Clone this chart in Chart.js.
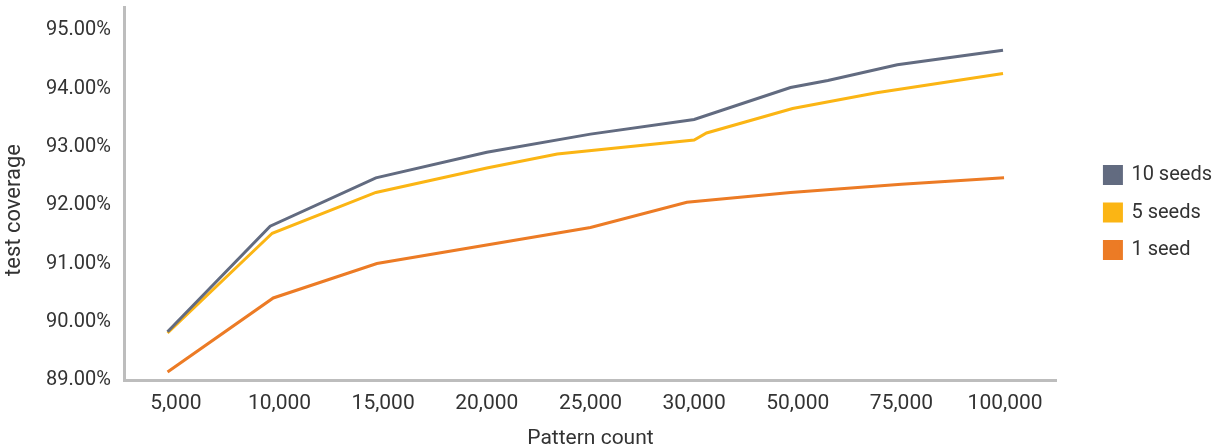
<!DOCTYPE html>
<html>
<head>
<meta charset="utf-8">
<script src="https://cdn.jsdelivr.net/npm/chart.js@4/dist/chart.umd.min.js"></script>
<style>
  html, body { margin: 0; padding: 0; background: #ffffff; overflow: hidden; }
  #wrap { position: absolute; left: 0; top: 0; width: 1222px; height: 448px; }
</style>
</head>
<body>
<div id="wrap"><canvas id="c"></canvas></div>
<script>
// Category tick labels (x axis, evenly spaced categories)
const categories = ["5,000", "10,000", "15,000", "20,000", "25,000", "30,000", "50,000", "75,000", "100,000"];
const seriesNames = ["10 seeds", "5 seeds", "1 seed"];

// Positions along the category axis (in category units) and values (%)
const tenSeedsPos = [-0.08, 0.91, 1.93, 3.0, 4.0, 5.0, 5.93, 6.29, 6.96, 7.98];
const tenSeedsVal = [89.83, 91.64, 92.47, 92.91, 93.22, 93.47, 94.02, 94.14, 94.41, 94.66];

const fiveSeedsPos = [-0.08, 0.93, 1.93, 3.0, 3.68, 5.0, 5.12, 5.95, 6.76, 7.98];
const fiveSeedsVal = [89.81, 91.52, 92.22, 92.64, 92.88, 93.12, 93.24, 93.66, 93.93, 94.26];

const oneSeedPos = [-0.08, 0.94, 1.94, 4.0, 4.93, 5.93, 7.0, 7.99];
const oneSeedVal = [89.14, 90.41, 91.0, 91.62, 92.05, 92.22, 92.36, 92.47];

const yTicks = [89, 90, 91, 92, 93, 94, 95];

const colors = ["#626b80", "#fbb514", "#ec7b25"];
const textColor = "#333333";
const axisColor = "#bdbdbd";
const FONT = "Roboto, 'Liberation Sans', sans-serif";

function pts(xs, ys) { return xs.map((x, i) => ({ x: x, y: ys[i] })); }

const datasets = [
  { label: seriesNames[0], data: pts(tenSeedsPos, tenSeedsVal) },
  { label: seriesNames[1], data: pts(fiveSeedsPos, fiveSeedsVal) },
  { label: seriesNames[2], data: pts(oneSeedPos, oneSeedVal) }
].map((d, i) => Object.assign(d, {
  borderColor: colors[i],
  backgroundColor: colors[i],
  borderWidth: 3,
  pointRadius: 0,
  pointHoverRadius: 0,
  tension: 0,
  fill: false
}));

function noPad(axis) {
  axis.paddingTop = 0; axis.paddingBottom = 0;
  axis.paddingLeft = 0; axis.paddingRight = 0;
}

new Chart(document.getElementById("c"), {
  type: "line",
  data: { datasets: datasets },
  options: {
    responsive: true,
    maintainAspectRatio: false,
    animation: false,
    events: [],
    layout: { padding: { top: 7, left: 0, right: 0, bottom: 0 } },
    plugins: {
      tooltip: { enabled: false },
      legend: {
        position: "right",
        align: "center",
        fullSize: false,
        title: { display: true, text: "", padding: { top: 0, bottom: 14 }, font: { family: FONT, size: 20 } },
        labels: {
          boxWidth: 17,
          boxHeight: 17,
          padding: 17.5,
          color: textColor,
          font: { family: FONT, size: 20 }
        }
      }
    },
    scales: {
      x: {
        type: "linear",
        min: -0.5,
        max: 8.5,
        grid: { display: false, drawTicks: false, tickLength: 0 },
        border: { display: true, color: axisColor, width: 3 },
        afterBuildTicks: (axis) => {
          axis.ticks = categories.map((c, i) => ({ value: i }));
        },
        afterFit: noPad,
        ticks: {
          autoSkip: false,
          maxRotation: 0,
          padding: 10.5,
          color: textColor,
          font: { family: FONT, size: 21 },
          callback: (v) => categories[v] !== undefined ? categories[v] : ""
        },
        title: {
          display: true,
          text: "Pattern count",
          color: textColor,
          font: { family: FONT, size: 21 },
          padding: { top: 0, bottom: -3.6 }
        }
      },
      y: {
        type: "linear",
        min: 89,
        max: 95.4,
        grid: { display: false, drawTicks: false, tickLength: 0 },
        border: { display: true, color: axisColor, width: 3 },
        afterBuildTicks: (axis) => {
          axis.ticks = yTicks.map(v => ({ value: v }));
        },
        afterFit: (axis) => { noPad(axis); axis.width = 124; },
        ticks: {
          padding: 13,
          color: textColor,
          font: { family: FONT, size: 20 },
          callback: (v) => Number(v).toFixed(2) + "%"
        },
        title: {
          display: true,
          text: "test coverage      ",
          color: textColor,
          font: { family: FONT, size: 22 },
          padding: { top: 0.8, bottom: 0 }
        }
      },
      spacer: {
        type: "linear",
        position: "right",
        display: true,
        grid: { display: false, drawTicks: false },
        border: { display: false },
        ticks: { display: false },
        afterFit: (axis) => { noPad(axis); axis.width = 30; }
      }
    }
  }
});
</script>
</body>
</html>
